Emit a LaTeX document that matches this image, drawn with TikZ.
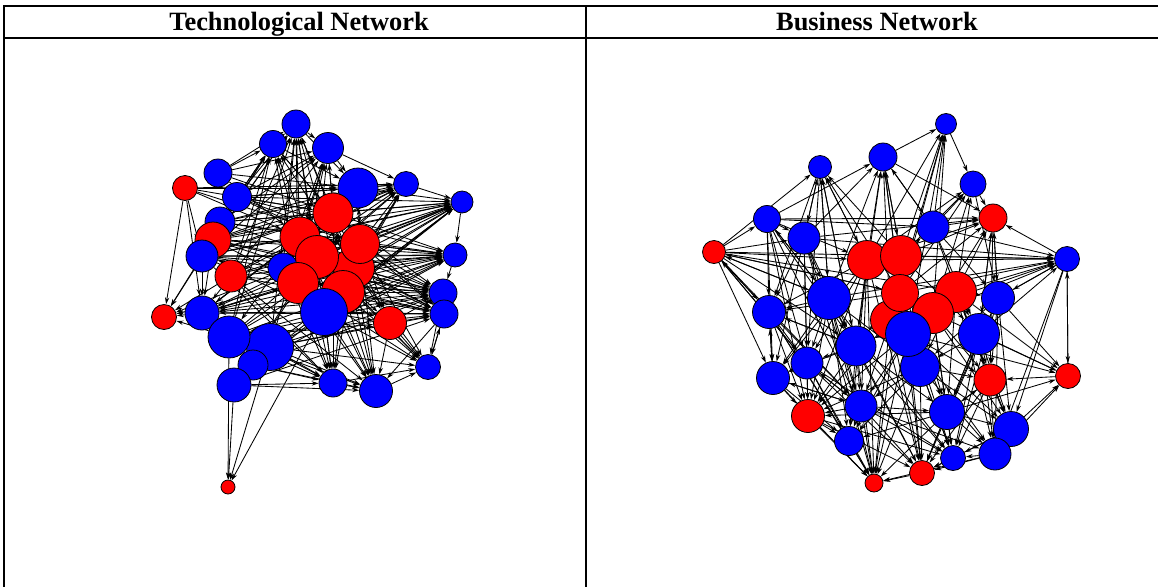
\documentclass[tikz,border=0pt]{standalone}
\usepackage{fontspec}
\setmainfont{Liberation Serif}
\usetikzlibrary{arrows.meta}
\pgfdeclarelayer{edges}
\pgfsetlayers{edges,main}
\begin{document}
\begin{tikzpicture}[x=1pt,y=-1pt,
  vx/.style={circle,draw=black,line width=0.8pt,inner sep=0pt,minimum size=#1},
  bv/.style={vx=#1,fill=blue},
  rv/.style={vx=#1,fill=red},
  link/.style={line width=0.85pt,-{Stealth[length=7pt,width=4.4pt]}},
  rule/.style={line width=2pt},
  head/.style={font=\fontsize{26.4}{30}\selectfont\bfseries,anchor=base,inner sep=0pt}]
\useasboundingbox (0,0) rectangle (1158,587);

% table frame
\draw[rule] (4,6) -- (1158,6);
\draw[rule] (4,38) -- (1158,38);
\draw[rule] (4,5) -- (4,587);
\draw[rule] (586,5) -- (586,587);
\node[head] (th1) at (299,30) {Technological Network};
\node[head] (th2) at (877,30) {Business Network};

% ---------- technological network ----------
\node[bv=28] (L1) at (296,124) {};
\node[bv=27] (L2) at (273,144) {};
\node[bv=31] (L3) at (328,148) {};
\node[bv=28] (L4) at (218,173) {};
\node[rv=25] (L5) at (185,188) {};
\node[bv=29] (L6) at (237,197) {};
\node[bv=40] (L7) at (358,188) {};
\node[bv=25] (L8) at (406,184) {};
\node[bv=22] (L9) at (462,202) {};
\node[bv=30] (L10) at (220,222) {};
\node[rv=36] (L11) at (213,240) {};
\node[bv=32] (L12) at (202,256) {};
\node[bv=30] (L18) at (283,268) {};
\node[rv=40] (L13) at (333,213) {};
\node[rv=40] (L14) at (300,237) {};
\node[rv=41] (L17) at (354,268) {};
\node[rv=43] (L20) at (343,292) {};
\node[rv=39] (L16) at (360,244) {};
\node[rv=43] (L15) at (317,257) {};
\node[rv=41] (L19) at (298,283) {};
\node[rv=32] (L21) at (231,276) {};
\node[bv=24] (L22) at (455,255) {};
\node[bv=47] (L23) at (324,312) {};
\node[bv=28] (L24) at (443,293) {};
\node[bv=28] (L25) at (444,314) {};
\node[rv=33] (L26) at (390,323) {};
\node[rv=25] (L27) at (164,317) {};
\node[bv=34] (L28) at (202,313) {};
\node[bv=47] (L30) at (270,347) {};
\node[bv=42] (L29) at (229,337) {};
\node[bv=30] (L31) at (253,365) {};
\node[bv=34] (L32) at (234,385) {};
\node[bv=28] (L33) at (333,383) {};
\node[bv=33] (L34) at (376,391) {};
\node[bv=25] (L35) at (428,367) {};
\node[rv=14] (L36) at (228,487) {};

% ---------- business network ----------
\node[bv=21] (R1) at (946,124) {};
\node[bv=28] (R2) at (883,157) {};
\node[bv=23] (R3) at (820,167) {};
\node[bv=26] (R4) at (973,184) {};
\node[rv=28] (R5) at (993,218) {};
\node[bv=27] (R6) at (767,219) {};
\node[bv=32] (R7) at (804,238) {};
\node[bv=32] (R8) at (933,227) {};
\node[rv=23] (R9) at (714,252) {};
\node[rv=39] (R10) at (867,260) {};
\node[rv=41] (R11) at (901,256) {};
\node[bv=25] (R12) at (1067,259) {};
\node[bv=43] (R13) at (829,298) {};
\node[rv=39] (R18) at (890,320) {};
\node[rv=37] (R14) at (900,293) {};
\node[rv=41] (R15) at (956,292) {};
\node[bv=33] (R16) at (998,298) {};
\node[bv=33] (R17) at (769,312) {};
\node[rv=41] (R19) at (933,313) {};
\node[bv=39] (R23) at (920,367) {};
\node[bv=45] (R20) at (908,334) {};
\node[bv=41] (R21) at (979,334) {};
\node[bv=40] (R22) at (856,346) {};
\node[bv=32] (R24) at (807,363) {};
\node[bv=33] (R25) at (773,378) {};
\node[rv=32] (R26) at (990,380) {};
\node[rv=25] (R27) at (1068,376) {};
\node[bv=32] (R28) at (861,406) {};
\node[bv=35] (R29) at (947,412) {};
\node[rv=33] (R30) at (808,416) {};
\node[bv=35] (R31) at (1011,429) {};
\node[bv=29] (R32) at (849,441) {};
\node[bv=32] (R33) at (995,454) {};
\node[bv=25] (R34) at (953,458) {};
\node[rv=25] (R35) at (922,473) {};
\node[rv=18] (R36) at (874,483) {};

\begin{pgfonlayer}{edges}
% directed ties, technological network
\foreach \s/\ts in {
  1/{3,7}, 2/{1,7,13}, 3/{7,8,13}, 4/{1,2,7,13,14,3},
  5/{7,8,12,13,14,28,16,27}, 6/{1,2,3,7,8,9,13,16,22,24},
  7/{8,9,16}, 8/{9}, 9/{22},
  10/{2,3,7,9,13,22,16,17,8},
  11/{1,2,7,8,9,13,16,22,24,28,27,17,19,25},
  12/{1,2,3,8,9,22,24,27,28,13,15,17,23,33,25},
  13/{1,2,3,7,8,9,22,24,25,26,34,33},
  14/{1,2,3,7,8,9,22,24,33,34,35,12,28,29,25},
  15/{1,2,3,8,9,22,24,25,26,33,34,35,28,32,27},
  16/{7,8,9,22,24,25,34,35,26},
  17/{8,9,22,24,25,26,33,34,35,2,28,1},
  18/{1,3,8,22,33,9,24},
  19/{1,2,3,9,22,24,26,33,34,35,12,27,32},
  20/{24,25,33,34,35,9,22,1,28,8},
  21/{1,2,3,8,9,22,24,27,28,33,34,16,13,25},
  22/{24}, 23/{25,26,33,34,35,36,32,29,24,22,9,1,28,8},
  24/{25,35}, 25/{35,34}, 26/{25,34,35,24},
  28/{22,24,27,13,14,17,19,9,33,25},
  29/{1,2,25,26,27,33,34,36,22,24,9,8,16},
  30/{1,26,33,34,36,24,25,35,22,9,3},
  31/{33,34,22,24,9}, 32/{33,34,36,25},
  33/{34,35}, 34/{35}, 35/{25}}
  {\foreach \t in \ts {\draw[link] (L\s) -- (L\t);}}

% directed ties, business network
\foreach \s/\ts in {
  1/{4}, 2/{5,8,1,11,14}, 3/{7,13,10,22,24,17}, 4/{5,16},
  5/{16,21,26},
  6/{2,5,7,17,25,13,24,8,10,22,28,30},
  7/{3,2,17,25,5,12,13,24,22,28,30,36},
  8/{1,4,5,12,2,26,21,16},
  9/{6,7,13,10,17,25,12,14,24,16,3,22,28},
  10/{1,2,3,4,5,12,17,25,30,22,28,24,36,32,35},
  11/{1,2,4,5,12,8,3,23,29,21},
  12/{5,27,16,31,33},
  13/{2,3,6,9,17,25,24,30,36,12,32,22,28,23,35,34},
  14/{1,2,4,5,12,9,17,3,22,23,28,29,35,34,36},
  15/{4,5,12,26,27,31,33,21,23,29},
  16/{12,27,26,31,33,5,29,34,35,23},
  17/{9,25,24,28,22,30,36,32},
  18/{1,2,12,36,30,35},
  19/{1,4,5,12,27,26,31,34,29,23,22},
  20/{27,26,31,33,34,35,36,32,1,28,30},
  21/{27,26,31,33,5,12,29,34,35,23},
  22/{2,3,17,30,32,36,35,25,24,28,29,34},
  23/{35,36,33,26,32,34,30,28,31},
  24/{25,30,36,9,28,32,35,34},
  25/{30,17,28,36,32}, 26/{33,31,29,34,35}, 27/{26,12},
  28/{30,32,36,35,25,24,34,29,33},
  29/{34,35,36,31,33,26,27,30,32},
  30/{36,32,35,34}, 31/{27,33,34,35}, 32/{36},
  33/{27,34,35,36}, 34/{35}, 35/{36}}
  {\foreach \t in \ts {\draw[link] (R\s) -- (R\t);}}
\end{pgfonlayer}
\end{tikzpicture}
\end{document}
